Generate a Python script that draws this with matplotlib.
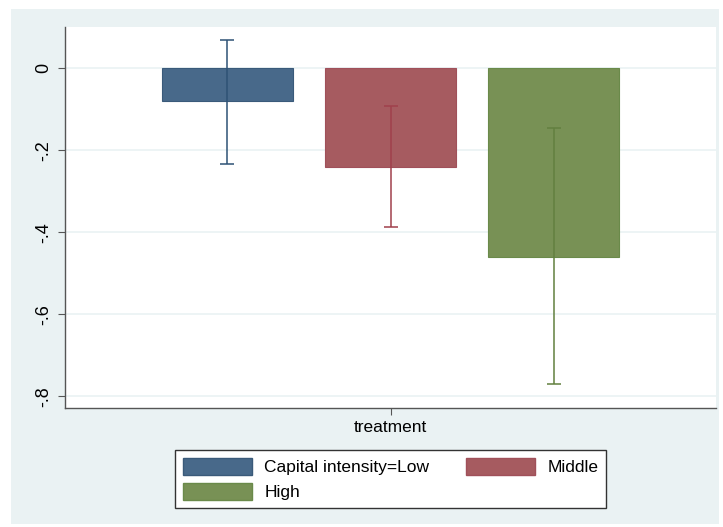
import matplotlib
matplotlib.use("Agg")
import matplotlib.pyplot as plt
from matplotlib.patches import Rectangle, Patch

plt.rcParams["font.family"] = ["Liberation Sans", "DejaVu Sans"]

groups = ["Capital intensity=Low", "Middle", "High"]
means = [-0.080, -0.240, -0.460]
ci_low = [-0.233, -0.387, -0.771]
ci_high = [0.070, -0.092, -0.146]
xlabel = "treatment"
yticks = [0, -0.2, -0.4, -0.6, -0.8]
ytick_labels = ["0", "-.2", "-.4", "-.6", "-.8"]

bar_colors = ["#48698A", "#A65B60", "#789155"]
edge_colors = ["#3A5A7A", "#A0505A", "#6A8A4A"]
err_colors = ["#2E5275", "#A0404C", "#62803F"]

W, H = 723, 527
fig = plt.figure(figsize=(W / 100, H / 100), dpi=100)
fig.patch.set_facecolor("white")
bg = Rectangle((11 / W, 1 - 524 / H), (719 - 11) / W, (524 - 9) / H,
               transform=fig.transFigure, facecolor="#EAF2F3", edgecolor="none", zorder=0)
fig.patches.append(bg)

ax = fig.add_axes([65 / W, 1 - 408 / H, (716 - 65) / W, (408 - 27) / H])
ax.set_facecolor("white")
ax.set_zorder(1)

positions = [-1, 0, 1]
for p, m, lo, hi, c, ec, erc in zip(positions, means, ci_low, ci_high, bar_colors, edge_colors, err_colors):
    ax.bar(p, m, width=0.8, color=c, edgecolor=ec, linewidth=0.8, zorder=2)
    ax.errorbar(p, m, yerr=[[m - lo], [hi - m]], fmt="none", ecolor=erc,
                elinewidth=1.1, capsize=5, capthick=1.1, zorder=3)

ax.set_xlim(-1.994, 1.994)
ax.set_ylim(-0.8285, 0.1007)
ax.set_yticks(yticks)
ax.set_yticklabels(ytick_labels, rotation=90, va="center", fontsize=13)
ax.set_xticks([0])
ax.set_xticklabels([xlabel], fontsize=12.5)
ax.yaxis.grid(True, color="#EAF2F3", linewidth=1.2, zorder=0)
ax.set_axisbelow(True)
for s in ["top", "right"]:
    ax.spines[s].set_visible(False)
for s in ["left", "bottom"]:
    ax.spines[s].set_color("#555555")
    ax.spines[s].set_linewidth(1.0)
ax.tick_params(axis="both", length=5, width=0.8, color="#555555", labelcolor="black")
ax.tick_params(axis="x", pad=4)
ax.tick_params(axis="y", pad=4)

handles = [Patch(facecolor=bar_colors[0], edgecolor=edge_colors[0], label=groups[0]),
           Patch(facecolor=bar_colors[2], edgecolor=edge_colors[2], label=groups[2]),
           Patch(facecolor=bar_colors[1], edgecolor=edge_colors[1], label=groups[1])]
leg = fig.legend(handles=handles, ncol=2, loc="center",
                 bbox_to_anchor=(390.5 / W, 1 - 479 / H), fontsize=12.5,
                 frameon=True, fancybox=False, edgecolor="#333333", framealpha=1,
                 facecolor="white",
                 handlelength=4.0, handleheight=1.1, columnspacing=2.1,
                 handletextpad=0.7, labelspacing=0.45, borderpad=0.45,
                 borderaxespad=0)
leg.get_frame().set_linewidth(1.0)

fig.savefig("out.png", dpi=100, facecolor="white")
